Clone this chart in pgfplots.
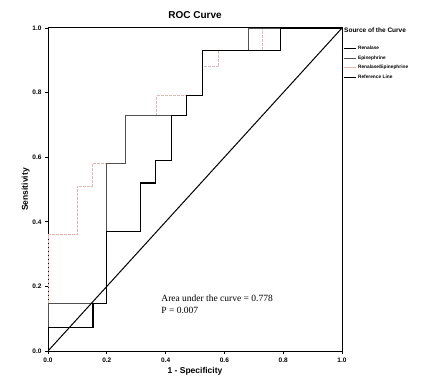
\documentclass[border=0pt]{standalone}
\usepackage{pgfplots}
\pgfplotsset{compat=1.18}
\usepackage{fontspec}
\setmainfont{Liberation Sans}
\newfontfamily\timesfont{Liberation Serif}
\definecolor{epi}{RGB}{80,80,80}
\definecolor{ratio}{RGB}{228,185,180}
\begin{document}
\begin{tikzpicture}
\begin{axis}[
  scale only axis,
  width=294pt, height=323pt,
  xmin=0, xmax=1, ymin=0, ymax=1,
  xtick={0,0.2,...,1.0}, ytick={0,0.2,...,1.0},
  tick align=outside, tick pos=left,
  major tick length=3pt,
  xticklabel style={font=\fontsize{6.5}{7}\selectfont\bfseries},
  yticklabel style={font=\fontsize{6.5}{7}\selectfont\bfseries},
  /pgf/number format/.cd, fixed, fixed zerofill, precision=1, assume math mode=true,
  /pgfplots/.cd,
  axis line style={line width=1pt},
  every tick/.style={black, line width=0.8pt},
  title={ROC Curve},
  title style={font=\fontsize{10}{11}\selectfont\bfseries, yshift=0pt},
  xlabel={1 - Specificity},
  ylabel={Sensitivity},
  xlabel style={font=\fontsize{8.5}{10}\selectfont\bfseries, yshift=2pt},
  ylabel style={font=\fontsize{8.5}{10}\selectfont\bfseries, yshift=-4pt},
  legend style={at={(1.0,0.95)}, anchor=north west, draw=none, fill=none,
    font=\fontsize{4.8}{5.5}\selectfont\bfseries, inner sep=0pt, outer sep=0pt,
    row sep=0.6pt, xshift=1pt},
  legend cell align=left,
  legend image code/.code={\draw[#1] (0cm,0cm) -- (0.42cm,0cm);},
]
\addlegendimage{black, line width=1.1pt}
\addlegendentry{Renalase}
\addlegendimage{epi, line width=0.8pt}
\addlegendentry{Epinephrine}
\addlegendimage{ratio, line width=0.8pt}
\addlegendentry{Renalase/Epinephrine}
\addlegendimage{black, line width=1pt}
\addlegendentry{Reference Line}
\addplot[ratio, line width=0.8pt, dash pattern=on 3pt off 1pt, forget plot] coordinates {
(0,0)(0,0.36)(0.1,0.36)(0.1,0.51)(0.15,0.51)(0.15,0.58)(0.263,0.58)(0.263,0.73)(0.37,0.73)(0.37,0.79)(0.524,0.79)(0.524,0.88)(0.58,0.88)(0.58,0.93)(0.73,0.93)(0.73,1)(1,1)};
\addplot[epi, line width=0.8pt, forget plot] coordinates {
(0,0)(0,0.148)(0.2,0.148)(0.2,0.58)(0.263,0.58)(0.263,0.73)(0.47,0.73)(0.47,0.79)(0.524,0.79)(0.524,0.93)(0.68,0.93)(0.68,1)(1,1)};
\addplot[black, line width=1.1pt, forget plot] coordinates {
(0,0)(0,0.074)(0.153,0.074)(0.153,0.148)(0.2,0.148)(0.2,0.37)(0.314,0.37)(0.314,0.52)(0.365,0.52)(0.365,0.59)(0.42,0.59)(0.42,0.73)(0.47,0.73)(0.47,0.79)(0.524,0.79)(0.524,0.93)(0.79,0.93)(0.79,1)(1,1)};
\addplot[black, line width=1pt, forget plot] coordinates {(0,0)(1,1)};
\node[anchor=west, align=left, font=\timesfont\fontsize{9.5}{12.5}\selectfont, inner sep=0pt] at (axis cs:0.385,0.145)
  {Area under the curve = 0.778\\P = 0.007};
\end{axis}
\node[anchor=west, font=\fontsize{6.5}{7.5}\selectfont\bfseries, inner sep=0pt] at ([xshift=2pt, yshift=-2pt]current axis.north east) {Source of the Curve};
\pgfresetboundingbox
\path (current axis.south west) ++(-48pt,-38pt) coordinate (bl);
\path (current axis.north east) ++(85pt,28pt) coordinate (tr);
\path[use as bounding box] (bl) rectangle (tr);
\end{tikzpicture}
\end{document}
